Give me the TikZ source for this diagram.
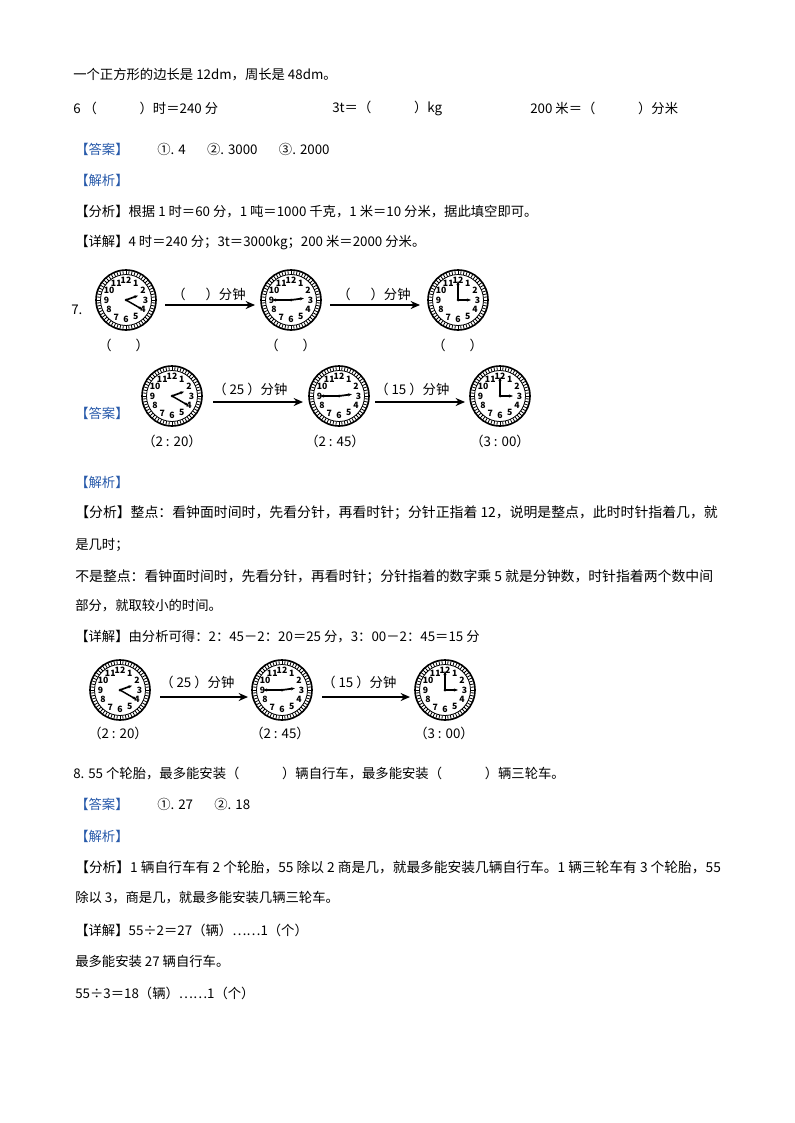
\documentclass[tikz,border=0pt]{standalone}
\usepackage{fontspec}
\setmainfont{Noto Sans CJK SC}
\usetikzlibrary{arrows.meta}
\definecolor{lblue}{RGB}{40,90,170}
\tikzset{txt/.style={anchor=west,inner sep=0pt,font=\fontsize{10}{12}\selectfont},
 lab/.style={txt,text=lblue},
 arr/.style={-{Stealth[length=7pt,width=6pt]},line width=1.3pt},
 clk/.style={circle,minimum size=60pt,inner sep=0pt}}
\newcommand\myclock[4]{% name, pos, hour angle, minute angle
 \node[clk] (#1) at (#2) {};
 \begin{scope}[shift={(#1.center)},x=0.75pt,y=0.75pt]
  \draw[line width=1.2pt] (0,0) circle (30);
  \draw[line width=0.6pt] (0,0) circle (25.5);
  \foreach \a in {0,6,...,354} \draw[line width=0.6pt] (\a:25.5)--(\a:30);
  \foreach \n in {1,...,12} \node[font=\fontsize{6.5}{7}\selectfont\bfseries,inner sep=0pt] at ({90-30*\n}:19.5) {\n};
  \draw[line width=1.3pt,-{Stealth[length=3pt]}] (0,0)--(#3:13);
  \draw[line width=1.1pt,-{Stealth[length=3pt]}] (0,0)--(#4:19);
  \fill (0,0) circle (1.5);
 \end{scope}}
\begin{document}
\begin{tikzpicture}[x=0.75pt,y=-0.75pt]
\useasboundingbox (0,0) rectangle (794,1123);
\node[txt] (t1) at (73,75) {一个正方形的边长是 12dm，周长是 48dm。};
\node[txt] (t2) at (73,108) {6 （\hspace{3.2em}）时＝240 分};
\node[txt] (t3) at (332,108) {3t＝（\hspace{3.2em}）kg};
\node[txt] (t4) at (530,108) {200 米＝（\hspace{3.2em}）分米};
\node[lab] (a6) at (75,149) {【答案】};
\node[txt] (a6t) at (157,149) {①. 4\hspace{1.6em}②. 3000\hspace{1.6em}③. 2000};
\node[lab] (j6) at (75,180) {【解析】};
\node[txt] (f6) at (75,212) {【分析】根据 1 时＝60 分，1 吨＝1000 千克，1 米＝10 分米，据此填空即可。};
\node[txt] (x6) at (75,243) {【详解】4 时＝240 分；3t＝3000kg；200 米＝2000 分米。};
\node[txt] (q7) at (71,310) {7.};
\myclock{c1}{126,300}{20}{-30}
\myclock{c2}{291,300}{7.5}{180}
\myclock{c3}{458,300}{0}{90}
\draw[arr] (165,305) -- (255,305);
\draw[arr] (330,305) -- (420,305);
\node[txt] at (172,294) {（\hspace{1.5em}）分钟};
\node[txt] at (337,294) {（\hspace{1.5em}）分钟};
\node[txt] at (98,345) {（\hspace{1.8em}）};
\node[txt] at (265,345) {（\hspace{1.8em}）};
\node[txt] at (432,345) {（\hspace{1.8em}）};
\node[lab] (a7) at (75,413) {【答案】};
\myclock{d1}{172,396}{20}{-30}
\myclock{d2}{339,396}{7.5}{180}
\myclock{d3}{500,396}{0}{90}
\draw[arr] (213,402) -- (303,402);
\draw[arr] (375,402) -- (465,402);
\node[txt] at (213,389) {（ 25 ）分钟};
\node[txt] at (375,389) {（ 15 ）分钟};
\node[txt] at (142,441) {（2 : 20）};
\node[txt] at (305,441) {（2 : 45）};
\node[txt] at (470,441) {（3 : 00）};
\node[lab] (j7) at (75,482) {【解析】};
\node[txt,font=\fontsize{10.4}{12}\selectfont] at (75,513) {【分析】整点：看钟面时间时，先看分针，再看时针；分针正指着 12，说明是整点，此时时针指着几，就};
\node[txt] at (75,545) {是几时；};
\node[txt,font=\fontsize{10.4}{12}\selectfont] at (75,577) {不是整点：看钟面时间时，先看分针，再看时针；分针指着的数字乘 5 就是分钟数，时针指着两个数中间};
\node[txt] at (75,606) {部分，就取较小的时间。};
\node[txt] at (75,637) {【详解】由分析可得：2：45－2：20＝25 分，3：00－2：45＝15 分};
\myclock{g1}{120,690}{20}{-30}
\myclock{g2}{282,690}{7.5}{180}
\myclock{g3}{445,690}{0}{90}
\draw[arr] (160,697) -- (248,697);
\draw[arr] (322,697) -- (410,697);
\node[txt] at (160,682) {（ 25 ）分钟};
\node[txt] at (322,682) {（ 15 ）分钟};
\node[txt] at (88,733) {（2 : 20）};
\node[txt] at (250,733) {（2 : 45）};
\node[txt] at (414,733) {（3 : 00）};
\node[txt] at (73,773) {8. 55 个轮胎，最多能安装（\hspace{3.2em}）辆自行车，最多能安装（\hspace{3.2em}）辆三轮车。};
\node[lab] at (75,804) {【答案】};
\node[txt] at (157,804) {①. 27\hspace{1.6em}②. 18};
\node[lab] at (75,836) {【解析】};
\node[txt,font=\fontsize{10.3}{12}\selectfont] at (75,867) {【分析】1 辆自行车有 2 个轮胎，55 除以 2 商是几，就最多能安装几辆自行车。1 辆三轮车有 3 个轮胎，55};
\node[txt] at (75,898) {除以 3，商是几，就最多能安装几辆三轮车。};
\node[txt] at (75,930) {【详解】55÷2＝27（辆）……1（个）};
\node[txt] at (75,961) {最多能安装 27 辆自行车。};
\node[txt] at (75,993) {55÷3＝18（辆）……1（个）};
\end{tikzpicture}
\end{document}
